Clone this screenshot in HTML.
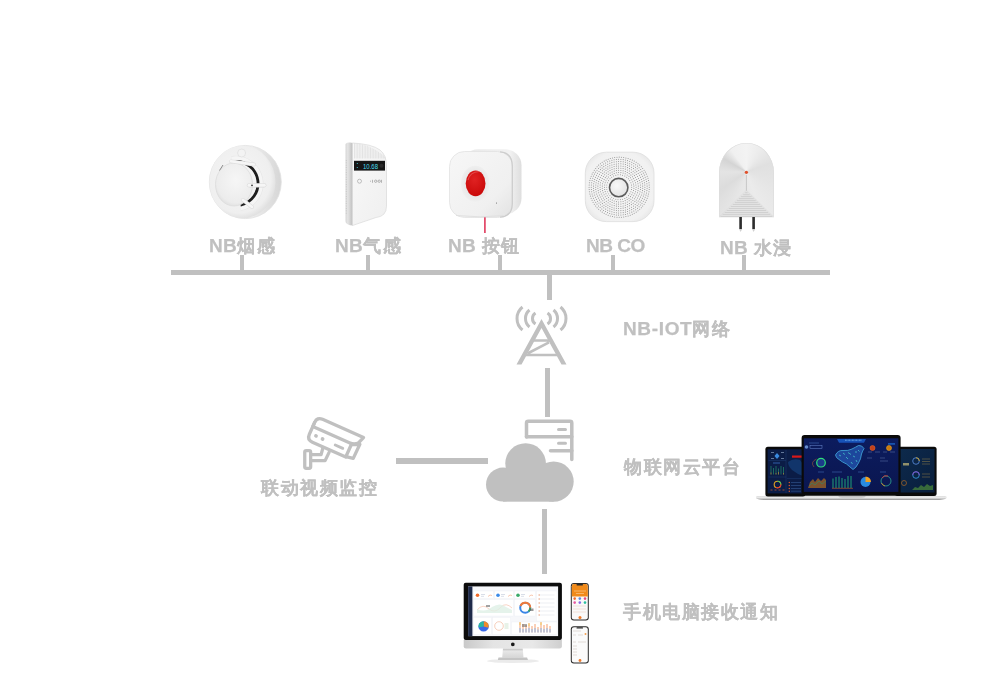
<!DOCTYPE html>
<html><head><meta charset="utf-8">
<style>
html,body{margin:0;padding:0;background:#fff;}
body{width:1000px;height:700px;position:relative;overflow:hidden;font-family:"Liberation Sans",sans-serif;}
.ln{position:absolute;background:#c0c0c0;}
.t{position:absolute;font-size:18px;line-height:18px;font-weight:bold;color:#c0c0c0;white-space:nowrap;letter-spacing:1.5px;will-change:transform;-webkit-text-stroke:0.12px #c0c0c0;}
.t b{font-size:19px;letter-spacing:0.3px;-webkit-text-stroke:0.25px #c0c0c0;}
svg{position:absolute;overflow:visible;}
</style></head><body>

<!-- bus lines -->
<div class="ln" style="left:171px;top:269.5px;width:659px;height:5.5px"></div>
<div class="ln" style="left:240px;top:255px;width:4px;height:15px"></div>
<div class="ln" style="left:366px;top:255px;width:4px;height:15px"></div>
<div class="ln" style="left:498px;top:255px;width:4px;height:15px"></div>
<div class="ln" style="left:611px;top:255px;width:4px;height:15px"></div>
<div class="ln" style="left:742px;top:255px;width:4px;height:15px"></div>
<div class="ln" style="left:546.5px;top:275px;width:5px;height:25px"></div>
<div class="ln" style="left:545px;top:368px;width:5px;height:49px"></div>
<div class="ln" style="left:396px;top:458.3px;width:91.5px;height:5.5px"></div>
<div class="ln" style="left:542px;top:508.8px;width:5px;height:65.2px"></div>

<!-- labels -->
<div class="t" style="left:209px;top:237px"><b>NB</b>烟感</div>
<div class="t" style="left:335px;top:237px"><b>NB</b>气感</div>
<div class="t" style="left:448px;top:237px"><b>NB </b>按钮</div>
<div class="t" style="left:586px;top:237px"><b style="letter-spacing:-0.5px">NB CO</b></div>
<div class="t" style="left:720px;top:239px"><b>NB </b>水浸</div>
<div class="t" style="left:622.5px;top:320px"><b style="letter-spacing:0.65px">NB-IOT</b>网络</div>
<div class="t" style="left:624px;top:458px">物联网云平台</div>
<div class="t" style="left:623px;top:603px">手机电脑接收通知</div>
<div class="t" style="left:261px;top:479px">联动视频监控</div>

<!-- tower -->
<svg style="left:0;top:0" width="1000" height="700" viewBox="0 0 1000 700">
 <g fill="none" stroke="#c0c0c0">
  <path d="M516.5,364.5 L541.5,319 L566.5,364.5 L561.5,364.5 L541.5,328 L521.5,364.5 Z" fill="#c0c0c0" stroke="none"/>
  <path d="M533,340.5 H550 M526,355 H557 M549,342.3 L527.5,353.5" stroke-width="2.6"/>
  <g stroke-width="3" stroke-linecap="butt">
   <path d="M522.5,307 A14.8,14.8 0 0 0 522.5,330"/>
   <path d="M529.5,310 A11,11 0 0 0 529.5,327"/>
   <path d="M535.5,313 A6.5,6.5 0 0 0 535.5,324"/>
   <path d="M560.5,307 A14.8,14.8 0 0 1 560.5,330"/>
   <path d="M553.5,310 A11,11 0 0 1 553.5,327"/>
   <path d="M547.5,313 A6.5,6.5 0 0 1 547.5,324"/>
  </g>
 </g>
 <!-- server -->
 <g fill="none" stroke="#c0c0c0" stroke-width="3.5" stroke-linecap="round" stroke-linejoin="round">
  <path d="M526.5,437 V423 Q526.5,421.3 528.3,421.3 H570 Q571.8,421.3 571.8,423 V459.5"/>
  <path d="M526.5,436.8 H571.8"/>
  <path d="M550.5,450.7 H571.8"/>
  <path d="M558.5,429.5 H565.5 M558.5,443.3 H565.5" stroke-width="3"/>
 </g>
 <!-- cloud -->
 <g fill="#c0c0c0">
  <circle cx="525.6" cy="463.5" r="20.3"/>
  <circle cx="503" cy="484.6" r="17"/>
  <circle cx="553.6" cy="481.6" r="20.1"/>
  <rect x="503" y="470" width="50.6" height="31.7"/>
 </g>
 <!-- camera -->
 <g fill="none" stroke="#c0c0c0" stroke-width="3.3" stroke-linejoin="round" stroke-linecap="round" transform="translate(317.1,416.9) rotate(24)">
  <path d="M0,10.5 L40,10.5 Q48.3,10.5 49.4,4 L50.8,0 L6,0 Q0,0 0,6 Z"/>
  <path d="M0,6 L0,19 Q0,25 6,25 L42.5,25 L42.5,10.5"/>
  <path d="M42.5,11.5 L50.2,7.6 L49.9,23.2 L42.5,24.5"/>
  <path d="M28,18.3 L36.2,18.3" stroke-width="2.9"/>
  <circle cx="6.7" cy="17.8" r="1.9" fill="#c0c0c0" stroke="none"/>
  <circle cx="14" cy="18" r="1.9" fill="#c0c0c0" stroke="none"/>
 </g>
 <g fill="none" stroke="#c0c0c0" stroke-width="3.3" stroke-linejoin="round" stroke-linecap="round">
  <path d="M322.9,447.9 L321.1,454.6 L312.3,454.6 M312.3,460.6 L325.1,460.6 L329.1,452.4"/>
  <rect x="304.75" y="450.65" width="5.9" height="17.7" rx="1.5"/>
 </g>
</svg>


<div style="position:absolute;left:719.3px;top:142.9px;width:54.3px;height:74.2px;border-radius:27.15px 27.15px 1px 1px / 30px 30px 1px 1px;background:conic-gradient(from 0deg at 50% 39%,#f3f3f3 0deg,#ececec 30deg,#e0e0e0 70deg,#e4e4e4 110deg,#ebebeb 160deg,#e6e6e6 200deg,#dcdcdc 235deg,#e4e4e4 270deg,#d4d4d4 300deg,#f0f0f0 325deg,#f3f3f3 360deg);box-shadow:inset 0 0 0 0.6px #dcdcdc"></div>
<!-- products -->
<svg style="left:0;top:0" width="1000" height="700" viewBox="0 0 1000 700">
 <defs>
  <radialGradient id="sdFace" cx="0.45" cy="0.45" r="0.6">
   <stop offset="0" stop-color="#f6f6f6"/><stop offset="0.8" stop-color="#efefef"/><stop offset="1" stop-color="#dadada"/>
  </radialGradient>
  <radialGradient id="sdCap" cx="0.55" cy="0.4" r="0.7">
   <stop offset="0" stop-color="#f6f6f6"/><stop offset="0.75" stop-color="#ececec"/><stop offset="1" stop-color="#d6d6d6"/>
  </radialGradient>
  <linearGradient id="sdRim" x1="0" x2="1" y1="0" y2="0">
   <stop offset="0" stop-color="#e6e6e6"/><stop offset="0.6" stop-color="#ededed"/><stop offset="1" stop-color="#d6d6d6"/>
  </linearGradient>
 </defs>

 <defs>
  <linearGradient id="gdSide" x1="0" x2="1"><stop offset="0" stop-color="#d6d6d6"/><stop offset="0.3" stop-color="#e4e4e4"/><stop offset="0.75" stop-color="#cacaca"/><stop offset="1" stop-color="#bdbdbd"/></linearGradient>
  <linearGradient id="gdFace" x1="0" x2="1" y1="0" y2="1"><stop offset="0" stop-color="#f8f8f8"/><stop offset="1" stop-color="#efefef"/></linearGradient>
  <linearGradient id="btSide" x1="0" x2="1"><stop offset="0" stop-color="#e8e8e8"/><stop offset="0.8" stop-color="#f2f2f2"/><stop offset="1" stop-color="#dedede"/></linearGradient>
  <radialGradient id="btRing" cx="0.5" cy="0.5" r="0.5"><stop offset="0.6" stop-color="#e6e6e6"/><stop offset="1" stop-color="#efefef"/></radialGradient>
  <linearGradient id="btFace" x1="0" x2="1" y1="0" y2="1"><stop offset="0" stop-color="#f7f7f7"/><stop offset="0.7" stop-color="#f0f0f0"/><stop offset="1" stop-color="#e2e2e2"/></linearGradient>
  <radialGradient id="btRed" cx="0.45" cy="0.35" r="0.7"><stop offset="0" stop-color="#e02222"/><stop offset="1" stop-color="#c80808"/></radialGradient>
  <radialGradient id="coFace" cx="0.5" cy="0.5" r="0.6"><stop offset="0" stop-color="#f6f6f6"/><stop offset="0.85" stop-color="#f1f1f1"/><stop offset="1" stop-color="#e6e6e6"/></radialGradient>
  <radialGradient id="wsFace" cx="0.5" cy="0.42" r="0.65"><stop offset="0" stop-color="#f4f4f4"/><stop offset="0.6" stop-color="#e9e9e9"/><stop offset="1" stop-color="#dadada"/></radialGradient>
  <radialGradient id="coHalo" cx="0.5" cy="0.5" r="0.5"><stop offset="0.7" stop-color="#ececec"/><stop offset="1" stop-color="#f2f2f2" stop-opacity="0.3"/></radialGradient>
  <radialGradient id="coBtn" cx="0.4" cy="0.4" r="0.6"><stop offset="0" stop-color="#f8f8f8"/><stop offset="1" stop-color="#e4e4e4"/></radialGradient>
  <pattern id="coDots" width="3" height="3" patternUnits="userSpaceOnUse"><circle cx="1.5" cy="1.5" r="0.55" fill="#9a9a9a"/></pattern>
 </defs>
 <!-- gas detector -->
 <g>
  <path d="M345.5,144 Q347,142.3 350,142.6 L353,143 L353,225.5 L350,225.2 Q345.5,224 345.5,221 Z" fill="url(#gdSide)"/>
  <path d="M352.5,143 Q372,144 380,150 Q386.5,155 386.5,166 L386.5,206 Q386.5,216.5 376,217.5 L352.5,225.5 Z" fill="url(#gdFace)" stroke="#dadada" stroke-width="0.7"/>
  <path d="M354.5,143.2 L354.5,158.5 M356.1,143.3 L356.1,158.5 M357.7,143.5 L357.7,158.5 M359.3,143.7 L359.3,158.5 M360.9,144.0 L360.9,158.5 M362.5,144.4 L362.5,158.5 M364.1,144.8 L364.1,158.5 M365.7,145.4 L365.7,158.5 M367.3,145.9 L367.3,158.5 M368.9,146.6 L368.9,158.5 M370.5,147.3 L370.5,158.5 M372.1,148.1 L372.1,158.5 M373.7,148.9 L373.7,158.5 M375.3,149.8 L375.3,158.5 M376.9,150.8 L376.9,158.5 M378.5,151.9 L378.5,158.5 M380.1,153.0 L380.1,158.5 M381.7,154.2 L381.7,158.5 M383.3,155.4 L383.3,158.5 M384.9,156.8 L384.9,158.5" stroke="#d6d6d6" stroke-width="0.6"/>
  <rect x="354" y="160.8" width="31" height="9.8" fill="#161616"/>
  <text x="363" y="168.6" font-family="Liberation Sans" font-size="7" fill="#48dcec" textLength="15" lengthAdjust="spacingAndGlyphs">10.68</text>
  <circle cx="381.5" cy="165.7" r="2" fill="#2a2a2a"/>
  <path d="M357.3,163 v1 M357.3,167 v1" stroke="#48dcec" stroke-width="0.8"/>
  <circle cx="359.5" cy="181.2" r="2" fill="none" stroke="#9a9a9a" stroke-width="0.6"/>
  <path d="M370,181.2 h1 M372.5,179.8 v3 M374.5,181.2 a1.2,1.2 0 1 0 2.4,0 a1.2,1.2 0 1 0 -2.4,0 M378,181.2 a1.2,1.2 0 1 0 2.4,0 a1.2,1.2 0 1 0 -2.4,0 M381.5,179.8 v3" stroke="#8a8a8a" stroke-width="0.6" fill="none"/>
  <path d="M346.3,160 V215" stroke="#b8b8b8" stroke-width="0.7" stroke-dasharray="0.8 1.6"/>
 </g>
 <!-- button -->
 <g>
  <rect x="462" y="149.3" width="59.5" height="65" rx="16" ry="16" fill="url(#btSide)"/>
  <rect x="449.5" y="151.5" width="63" height="66" rx="15" ry="15" fill="url(#btFace)" stroke="#e2e2e2" stroke-width="0.8"/>
  <path d="M500,151.8 Q512,152.5 512.3,166 L512.3,204 Q512,216.5 500,217.2" stroke="#cdcdcd" stroke-width="1.3" fill="none"/>
  <path d="M456,215.5 Q480,218.2 505,215.5" stroke="#e0e0e0" stroke-width="1" fill="none"/>
  <ellipse cx="475.3" cy="183.7" rx="14.3" ry="18" fill="url(#btRing)"/>
  <ellipse cx="475.6" cy="183.4" rx="9.9" ry="12.9" fill="url(#btRed)"/>
  <path d="M468,180 Q470,172 479,171.5" stroke="#f07070" stroke-width="1.2" fill="none" opacity="0.55"/>
  <circle cx="496.5" cy="203" r="0.5" fill="#555"/>
  <rect x="484.1" y="217.3" width="1.6" height="15.7" fill="#e03a5c"/>
 </g>
 <!-- CO detector -->
 <g>
  <rect x="585.3" y="152.2" width="68.7" height="69.4" rx="21" ry="21" fill="url(#coFace)" stroke="#e0e0e0" stroke-width="0.9"/>
  <path d="M631.7,187.2h0 M631.5,189.5h0 M630.9,191.7h0 M629.8,193.8h0 M628.4,195.6h0 M626.7,197.2h0 M624.8,198.4h0 M622.6,199.2h0 M620.4,199.6h0 M618.0,199.6h0 M615.8,199.2h0 M613.6,198.4h0 M611.7,197.2h0 M610.0,195.6h0 M608.6,193.8h0 M607.5,191.7h0 M606.9,189.5h0 M606.7,187.2h0 M606.9,184.9h0 M607.5,182.7h0 M608.6,180.6h0 M610.0,178.8h0 M611.7,177.2h0 M613.6,176.0h0 M615.8,175.2h0 M618.0,174.8h0 M620.4,174.8h0 M622.6,175.2h0 M624.8,176.0h0 M626.7,177.2h0 M628.4,178.8h0 M629.8,180.6h0 M630.9,182.7h0 M631.5,184.9h0 M633.9,188.3h0 M633.5,190.5h0 M632.8,192.7h0 M631.8,194.7h0 M630.5,196.6h0 M629.0,198.2h0 M627.2,199.5h0 M625.2,200.6h0 M623.1,201.4h0 M620.9,201.8h0 M618.6,201.9h0 M616.4,201.6h0 M614.2,201.0h0 M612.2,200.1h0 M610.3,198.9h0 M608.6,197.4h0 M607.2,195.7h0 M606.0,193.7h0 M605.2,191.6h0 M604.7,189.4h0 M604.5,187.2h0 M604.7,185.0h0 M605.2,182.8h0 M606.0,180.7h0 M607.2,178.7h0 M608.6,177.0h0 M610.3,175.5h0 M612.2,174.3h0 M614.2,173.4h0 M616.4,172.8h0 M618.6,172.5h0 M620.9,172.6h0 M623.1,173.0h0 M625.2,173.8h0 M627.2,174.9h0 M629.0,176.2h0 M630.5,177.8h0 M631.8,179.7h0 M632.8,181.7h0 M633.5,183.9h0 M633.9,186.1h0 M636.1,187.2h0 M635.9,189.5h0 M635.5,191.7h0 M634.8,193.8h0 M633.7,195.8h0 M632.5,197.7h0 M630.9,199.3h0 M629.2,200.8h0 M627.3,202.0h0 M625.3,203.0h0 M623.1,203.6h0 M620.9,204.0h0 M618.6,204.1h0 M616.4,203.9h0 M614.2,203.3h0 M612.1,202.5h0 M610.1,201.4h0 M608.3,200.1h0 M606.7,198.5h0 M605.3,196.8h0 M604.1,194.8h0 M603.2,192.7h0 M602.6,190.6h0 M602.3,188.3h0 M602.3,186.1h0 M602.6,183.8h0 M603.2,181.7h0 M604.1,179.6h0 M605.3,177.6h0 M606.7,175.9h0 M608.3,174.3h0 M610.1,173.0h0 M612.1,171.9h0 M614.2,171.1h0 M616.4,170.5h0 M618.6,170.3h0 M620.9,170.4h0 M623.1,170.8h0 M625.3,171.4h0 M627.3,172.4h0 M629.2,173.6h0 M630.9,175.1h0 M632.5,176.7h0 M633.7,178.6h0 M634.8,180.6h0 M635.5,182.7h0 M635.9,184.9h0 M638.3,188.3h0 M638.0,190.6h0 M637.5,192.8h0 M636.7,194.9h0 M635.6,196.9h0 M634.4,198.8h0 M632.9,200.5h0 M631.2,202.0h0 M629.4,203.4h0 M627.4,204.4h0 M625.3,205.3h0 M623.1,205.9h0 M620.9,206.2h0 M618.6,206.3h0 M616.4,206.1h0 M614.2,205.6h0 M612.0,204.9h0 M610.0,203.9h0 M608.1,202.7h0 M606.3,201.3h0 M604.7,199.7h0 M603.4,197.9h0 M602.2,195.9h0 M601.3,193.9h0 M600.6,191.7h0 M600.2,189.5h0 M600.1,187.2h0 M600.2,184.9h0 M600.6,182.7h0 M601.3,180.5h0 M602.2,178.5h0 M603.4,176.5h0 M604.7,174.7h0 M606.3,173.1h0 M608.1,171.7h0 M610.0,170.5h0 M612.0,169.5h0 M614.2,168.8h0 M616.4,168.3h0 M618.6,168.1h0 M620.9,168.2h0 M623.1,168.5h0 M625.3,169.1h0 M627.4,170.0h0 M629.4,171.0h0 M631.2,172.4h0 M632.9,173.9h0 M634.4,175.6h0 M635.6,177.5h0 M636.7,179.5h0 M637.5,181.6h0 M638.0,183.8h0 M638.3,186.1h0 M640.5,187.2h0 M640.4,189.5h0 M640.0,191.7h0 M639.4,193.9h0 M638.6,196.0h0 M637.6,198.0h0 M636.3,199.9h0 M634.9,201.6h0 M633.2,203.2h0 M631.4,204.6h0 M629.5,205.8h0 M627.5,206.8h0 M625.3,207.6h0 M623.1,208.1h0 M620.9,208.4h0 M618.6,208.5h0 M616.4,208.3h0 M614.1,207.9h0 M612.0,207.2h0 M609.9,206.4h0 M607.9,205.3h0 M606.0,204.0h0 M604.3,202.5h0 M602.8,200.8h0 M601.5,199.0h0 M600.3,197.0h0 M599.4,195.0h0 M598.7,192.8h0 M598.2,190.6h0 M597.9,188.3h0 M597.9,186.1h0 M598.2,183.8h0 M598.7,181.6h0 M599.4,179.4h0 M600.3,177.4h0 M601.5,175.4h0 M602.8,173.6h0 M604.3,171.9h0 M606.0,170.4h0 M607.9,169.1h0 M609.9,168.0h0 M612.0,167.2h0 M614.1,166.5h0 M616.4,166.1h0 M618.6,165.9h0 M620.9,166.0h0 M623.1,166.3h0 M625.3,166.8h0 M627.5,167.6h0 M629.5,168.6h0 M631.4,169.8h0 M633.2,171.2h0 M634.9,172.8h0 M636.3,174.5h0 M637.6,176.4h0 M638.6,178.4h0 M639.4,180.5h0 M640.0,182.7h0 M640.4,184.9h0 M642.7,188.3h0 M642.5,190.6h0 M642.0,192.8h0 M641.4,195.0h0 M640.5,197.1h0 M639.5,199.1h0 M638.2,201.0h0 M636.8,202.8h0 M635.2,204.4h0 M633.5,205.9h0 M631.6,207.2h0 M629.6,208.3h0 M627.5,209.2h0 M625.4,209.9h0 M623.2,210.4h0 M620.9,210.6h0 M618.6,210.7h0 M616.4,210.5h0 M614.1,210.1h0 M611.9,209.5h0 M609.8,208.7h0 M607.8,207.7h0 M605.9,206.5h0 M604.0,205.2h0 M602.4,203.6h0 M600.9,201.9h0 M599.5,200.1h0 M598.4,198.1h0 M597.4,196.1h0 M596.7,193.9h0 M596.1,191.7h0 M595.8,189.5h0 M595.7,187.2h0 M595.8,184.9h0 M596.1,182.7h0 M596.7,180.5h0 M597.4,178.3h0 M598.4,176.3h0 M599.5,174.3h0 M600.9,172.5h0 M602.4,170.8h0 M604.0,169.2h0 M605.9,167.9h0 M607.8,166.7h0 M609.8,165.7h0 M611.9,164.9h0 M614.1,164.3h0 M616.4,163.9h0 M618.6,163.7h0 M620.9,163.8h0 M623.2,164.0h0 M625.4,164.5h0 M627.5,165.2h0 M629.6,166.1h0 M631.6,167.2h0 M633.5,168.5h0 M635.2,170.0h0 M636.8,171.6h0 M638.2,173.4h0 M639.5,175.3h0 M640.5,177.3h0 M641.4,179.4h0 M642.0,181.6h0 M642.5,183.8h0 M642.7,186.1h0 M644.9,187.2h0 M644.8,189.5h0 M644.5,191.7h0 M644.0,193.9h0 M643.3,196.1h0 M642.4,198.2h0 M641.4,200.2h0 M640.1,202.1h0 M638.7,203.9h0 M637.2,205.6h0 M635.5,207.1h0 M633.7,208.4h0 M631.7,209.6h0 M629.7,210.7h0 M627.6,211.5h0 M625.4,212.1h0 M623.2,212.6h0 M620.9,212.8h0 M618.6,212.9h0 M616.4,212.7h0 M614.1,212.4h0 M611.9,211.8h0 M609.8,211.1h0 M607.7,210.2h0 M605.7,209.1h0 M603.8,207.8h0 M602.1,206.3h0 M600.4,204.8h0 M599.0,203.0h0 M597.6,201.2h0 M596.5,199.2h0 M595.5,197.2h0 M594.7,195.0h0 M594.1,192.8h0 M593.7,190.6h0 M593.5,188.3h0 M593.5,186.1h0 M593.7,183.8h0 M594.1,181.6h0 M594.7,179.4h0 M595.5,177.2h0 M596.5,175.2h0 M597.6,173.2h0 M599.0,171.4h0 M600.4,169.6h0 M602.1,168.1h0 M603.8,166.6h0 M605.7,165.3h0 M607.7,164.2h0 M609.8,163.3h0 M611.9,162.6h0 M614.1,162.0h0 M616.4,161.7h0 M618.6,161.5h0 M620.9,161.6h0 M623.2,161.8h0 M625.4,162.3h0 M627.6,162.9h0 M629.7,163.7h0 M631.7,164.8h0 M633.7,166.0h0 M635.5,167.3h0 M637.2,168.8h0 M638.7,170.5h0 M640.1,172.3h0 M641.4,174.2h0 M642.4,176.2h0 M643.3,178.3h0 M644.0,180.5h0 M644.5,182.7h0 M644.8,184.9h0 M647.1,188.3h0 M646.9,190.6h0 M646.5,192.9h0 M646.0,195.1h0 M645.2,197.2h0 M644.3,199.3h0 M643.3,201.3h0 M642.0,203.2h0 M640.7,205.0h0 M639.1,206.7h0 M637.5,208.3h0 M635.7,209.7h0 M633.8,211.0h0 M631.8,212.1h0 M629.7,213.0h0 M627.6,213.8h0 M625.4,214.4h0 M623.2,214.8h0 M620.9,215.0h0 M618.6,215.1h0 M616.4,215.0h0 M614.1,214.6h0 M611.9,214.1h0 M609.7,213.4h0 M607.6,212.6h0 M605.6,211.5h0 M603.6,210.4h0 M601.8,209.0h0 M600.1,207.5h0 M598.5,205.9h0 M597.0,204.1h0 M595.7,202.3h0 M594.6,200.3h0 M593.6,198.3h0 M592.8,196.1h0 M592.1,194.0h0 M591.7,191.7h0 M591.4,189.5h0 M591.3,187.2h0 M591.4,184.9h0 M591.7,182.7h0 M592.1,180.4h0 M592.8,178.3h0 M593.6,176.1h0 M594.6,174.1h0 M595.7,172.1h0 M597.0,170.3h0 M598.5,168.5h0 M600.1,166.9h0 M601.8,165.4h0 M603.6,164.0h0 M605.6,162.9h0 M607.6,161.8h0 M609.7,161.0h0 M611.9,160.3h0 M614.1,159.8h0 M616.4,159.4h0 M618.6,159.3h0 M620.9,159.4h0 M623.2,159.6h0 M625.4,160.0h0 M627.6,160.6h0 M629.7,161.4h0 M631.8,162.3h0 M633.8,163.4h0 M635.7,164.7h0 M637.5,166.1h0 M639.1,167.7h0 M640.7,169.4h0 M642.0,171.2h0 M643.3,173.1h0 M644.3,175.1h0 M645.2,177.2h0 M646.0,179.3h0 M646.5,181.5h0 M646.9,183.8h0 M647.1,186.1h0 M649.3,187.2h0 M649.2,189.4h0 M649.0,191.7h0 M648.5,193.9h0 M648.0,196.1h0 M647.2,198.2h0 M646.3,200.3h0 M645.3,202.2h0 M644.1,204.2h0 M642.7,206.0h0 M641.3,207.7h0 M639.7,209.3h0 M638.0,210.7h0 M636.2,212.1h0 M634.2,213.3h0 M632.3,214.3h0 M630.2,215.2h0 M628.1,216.0h0 M625.9,216.5h0 M623.7,217.0h0 M621.4,217.2h0 M619.2,217.3h0 M617.0,217.2h0 M614.7,217.0h0 M612.5,216.5h0 M610.3,216.0h0 M608.2,215.2h0 M606.1,214.3h0 M604.2,213.3h0 M602.2,212.1h0 M600.4,210.7h0 M598.7,209.3h0 M597.1,207.7h0 M595.7,206.0h0 M594.3,204.2h0 M593.1,202.2h0 M592.1,200.3h0 M591.2,198.2h0 M590.4,196.1h0 M589.9,193.9h0 M589.4,191.7h0 M589.2,189.4h0 M589.1,187.2h0 M589.2,185.0h0 M589.4,182.7h0 M589.9,180.5h0 M590.4,178.3h0 M591.2,176.2h0 M592.1,174.1h0 M593.1,172.2h0 M594.3,170.2h0 M595.7,168.4h0 M597.1,166.7h0 M598.7,165.1h0 M600.4,163.7h0 M602.2,162.3h0 M604.2,161.1h0 M606.1,160.1h0 M608.2,159.2h0 M610.3,158.4h0 M612.5,157.9h0 M614.7,157.4h0 M617.0,157.2h0 M619.2,157.1h0 M621.4,157.2h0 M623.7,157.4h0 M625.9,157.9h0 M628.1,158.4h0 M630.2,159.2h0 M632.3,160.1h0 M634.2,161.1h0 M636.2,162.3h0 M638.0,163.7h0 M639.7,165.1h0 M641.3,166.7h0 M642.7,168.4h0 M644.1,170.2h0 M645.3,172.1h0 M646.3,174.1h0 M647.2,176.2h0 M648.0,178.3h0 M648.5,180.5h0 M649.0,182.7h0 M649.2,185.0h0" stroke="#8e8e8e" stroke-width="1.05" stroke-linecap="round"/>
  <circle cx="618.7" cy="187.6" r="12.2" fill="url(#coHalo)"/>
  <circle cx="618.7" cy="187.6" r="9.2" fill="url(#coBtn)" stroke="#5c5c5c" stroke-width="1.6"/>
 </g>
 <!-- water sensor -->
 <g>
    <path d="M746.4,190.2 L719.4,217 L773.5,217 Z" fill="#e4e4e4" stroke="#d6d6d6" stroke-width="0.5"/>
  <path d="M745.2,192.7 H747.6 M743.1,194.7 H749.7 M741.1,196.6 H751.7 M739.0,198.6 H753.8 M737.0,200.6 H755.8 M735.0,202.6 H757.8 M732.9,204.5 H759.9 M730.9,206.5 H761.9 M728.9,208.5 H763.9 M726.8,210.5 H766.0 M724.8,212.5 H768.0 M722.7,214.4 H770.1 M720.7,216.4 H772.1" stroke="#c8c8c8" stroke-width="0.7"/>
  <path d="M746.4,175 V190.7" stroke="#b0b0b0" stroke-width="0.6"/>
  <circle cx="746.4" cy="172.3" r="1.6" fill="#e0502a"/>
  <rect x="739.3" y="217" width="2.6" height="12" fill="#2c2c2c"/>
  <rect x="752.3" y="217" width="2.6" height="12" fill="#2c2c2c"/>
  <path d="M739,229 L740.6,232 L742.2,229 Z M752,229 L753.6,232 L755.2,229 Z" fill="#d0d0d0"/>
 </g>

 <defs>
  <linearGradient id="lpBase" x1="0" x2="0" y1="0" y2="1"><stop offset="0" stop-color="#dcdcdc"/><stop offset="0.35" stop-color="#ececec"/><stop offset="0.7" stop-color="#c4c4c4"/><stop offset="1" stop-color="#8c8c8c"/></linearGradient>
  <linearGradient id="scrL" x1="0" x2="1" y1="0" y2="1"><stop offset="0" stop-color="#0d2a4c"/><stop offset="1" stop-color="#091e3c"/></linearGradient>
  <linearGradient id="scrC" x1="0" x2="0" y1="0" y2="1"><stop offset="0" stop-color="#0c1c5e"/><stop offset="1" stop-color="#0a1650"/></linearGradient>
  <linearGradient id="chin" x1="0" x2="1"><stop offset="0" stop-color="#c9c9c9"/><stop offset="0.3" stop-color="#e4e4e4"/><stop offset="0.7" stop-color="#e8e8e8"/><stop offset="1" stop-color="#cfcfcf"/></linearGradient>
  <linearGradient id="neck" x1="0" x2="0" y1="0" y2="1"><stop offset="0" stop-color="#bdbdbd"/><stop offset="0.3" stop-color="#e6e6e6"/><stop offset="1" stop-color="#d6d6d6"/></linearGradient>
 </defs>
 <!-- laptops -->
 <g>
  <!-- base -->
  <path d="M757,496 H945 Q947.5,496.3 946.5,498 Q944.5,500 935,500 H766 Q757,500 756,498 Q755.8,496.3 757,496 Z" fill="url(#lpBase)"/>
  <path d="M838,496.2 H866 Q865,497.6 862,497.6 H842 Q839,497.6 838,496.2 Z" fill="#b8b8b8"/>
  <!-- left laptop -->
  <rect x="765.4" y="446.7" width="40" height="49.8" rx="2.5" fill="#0a0a0a"/>
  <rect x="767.6" y="449.3" width="36" height="44.1" fill="#0b1c46"/>
  <g>
   <path d="M768.5,460.5 H786 M786,450 V493 M768.5,477 H786 M787,478.5 H803" stroke="#1d3a70" stroke-width="0.5"/>
   <path d="M777,453 L779.5,456 L777,459 L774.5,456 Z" fill="#3a8ae0"/>
   <path d="M771,452.5 h3 M781,452.5 h3 M771,458.5 h3 M781,458.5 h3" stroke="#8aa0c0" stroke-width="0.7"/>
   <path d="M773,463 h7" stroke="#3a70c0" stroke-width="0.8"/>
   <path d="M771,474.5 V466 M773.5,474.5 V468 M776,474.5 V466 M778.5,474.5 V468.5 M781,474.5 V466 M783.5,474.5 V467" stroke="#28a070" stroke-width="0.6"/>
   <path d="M771,474.5 V472.5 M776,474.5 V473 M778.5,474.5 V472 M783.5,474.5 V473" stroke="#d08030" stroke-width="0.6"/>
   <circle cx="777.5" cy="484.5" r="3.3" fill="none" stroke="#e0a020" stroke-width="1.1"/>
   <path d="M777.5,481.2 A3.3,3.3 0 0 1 780.8,484.5" fill="none" stroke="#40c060" stroke-width="1.1"/>
   <path d="M780.8,484.5 A3.3,3.3 0 0 1 776,487.5" fill="none" stroke="#e03030" stroke-width="1.1"/>
   <path d="M770.5,490 h2 M774.5,490 h2 M778.5,490 h2 M782.5,490 h2" stroke="#d06030" stroke-width="0.7"/>
   <rect x="792" y="455.5" width="11" height="2.2" fill="#d81818"/>
   <path d="M788,462 Q793,458 800,460 L803,464 L803,476 Q797,474 792,470 Q788,466 788,462 Z" fill="#14407a" opacity="0.7"/>
   <circle cx="789.3" cy="482.5" r="0.7" fill="#e05a2a"/><circle cx="789.3" cy="485.5" r="0.7" fill="#e05a2a"/><circle cx="789.3" cy="488.5" r="0.7" fill="#e05a2a"/><circle cx="789.3" cy="491.2" r="0.7" fill="#e05a2a"/>
   <path d="M791,482.5 h10 M791,485.5 h10 M791,488.5 h10 M791,491.2 h10" stroke="#2a4a80" stroke-width="0.8"/>
  </g>
  <!-- right laptop -->
  <rect x="895" y="446.7" width="41.6" height="49.3" rx="2.5" fill="#0a0a0a"/>
  <rect x="899" y="449" width="35.5" height="43.5" fill="url(#scrL)"/>
  <g opacity="0.9">
   <circle cx="916" cy="461" r="3.3" fill="none" stroke="#5a8ee0" stroke-width="0.9"/>
   <path d="M916,457.7 A3.3,3.3 0 0 1 919.3,461" fill="none" stroke="#e6b020" stroke-width="0.9"/>
   <circle cx="916" cy="475" r="3.3" fill="none" stroke="#3aa0e6" stroke-width="0.9"/>
   <path d="M912.7,475 A3.3,3.3 0 0 1 919.3,475" fill="none" stroke="#9b4fd8" stroke-width="0.9"/>
   <path d="M912,490 L915,487 L918,488 L921,485 L924,487 L927,484 L930,486 L933,485 V490 Z" fill="#4a8a3a" opacity="0.8"/>
   <path d="M922,459 h8 M922,461.5 h8 M922,464 h8 M922,474 h8 M922,477 h8" stroke="#8a7a4a" stroke-width="0.6"/>
   <circle cx="904" cy="483" r="2.5" fill="none" stroke="#c07020" stroke-width="0.7"/>
   <rect x="903" y="463" width="6" height="2.5" fill="#e0d080" opacity="0.7"/>
  </g>
  <!-- center laptop -->
  <rect x="801.6" y="435" width="99" height="60.8" rx="3" fill="#0a0a0a"/>
  <rect x="803.8" y="438.3" width="94.6" height="53.6" fill="url(#scrC)"/>
  <path d="M837,439 H866 L864,442.8 H839 Z" fill="#1a5cc8" opacity="0.85"/>
  <path d="M845,440.2 H862" stroke="#8fd0ff" stroke-width="0.8" stroke-dasharray="0.8 0.6"/>
  <rect x="888" y="443" width="7" height="1.8" fill="#1e6ad0" opacity="0.7"/>
  <circle cx="806.5" cy="447" r="1.8" fill="#7aa8e8" opacity="0.8"/>
  <rect x="810" y="445.5" width="12" height="2.8" fill="none" stroke="#6a8ad0" stroke-width="0.5"/>
  <circle cx="821" cy="462.7" r="4.3" fill="#1c3c8a" stroke="#2ee07a" stroke-width="1.2"/>
  <path d="M816.5,459 Q810,462 814,467" fill="none" stroke="#c06a30" stroke-width="0.5"/>
  <path d="M835.5,455 Q838,450 843,450.5 Q848,451 852,449 Q856,447 858.5,445.5 Q862,445 864,448.5 Q862.5,451 861.5,454 Q861,459 858.5,463 Q856,468 853,469.5 Q850,467 846.5,464 Q842,462 839,459.5 Q836,458 835.5,455 Z" fill="#1e4aa0" stroke="#48b4e6" stroke-width="0.8" opacity="0.95"/>
  <path d="M839,455 l2,1 M843,453 l2,1.5 M848,452.5 l3,2 M853,456 l2,1 M846,457 l2,2 M856,460 l1,2 M858,450 l1.5,1.5 M851,462 l1.5,2 M855,452 l2,0" stroke="#43c0c8" stroke-width="0.8"/>
  <circle cx="872.5" cy="448" r="2.5" fill="#c4401a" stroke="#e0602a" stroke-width="0.6"/>
  <circle cx="889" cy="448" r="2.5" fill="#c87a10" stroke="#e8a020" stroke-width="0.6"/>
  <path d="M868,452 h4 M875,452 h5 M883,452 h4 M890,452 h5 M867,458 h5 M880,458 h5 M880,461 h8" stroke="#8aa0d0" stroke-width="0.5" opacity="0.7"/>
  <path d="M808,488 L810,482 L813,479 L815,482 L818,478 L821,481 L824,478 L826,480 V488 Z" fill="#8a5a2a" opacity="0.9"/>
  <path d="M809,486 L812,483 L815,485 L819,481 L822,484 L826,481" fill="none" stroke="#2e8a6a" stroke-width="0.6"/>
  <path d="M833,488 V478.5 M836,488 V477 M839,488 V476.5 M842,488 V478 M845,488 V479 M848,488 V476 M851,488 V476" stroke="#23b07a" stroke-width="0.9"/>
  <path d="M832,488.3 H853" stroke="#d06a20" stroke-width="0.6"/>
  <circle cx="865.5" cy="482" r="5" fill="#2a8ae0"/>
  <path d="M865.5,482 V476.5 A5.5,5.5 0 0 1 871,482 Z" fill="#f0a020"/>
  <circle cx="886" cy="481" r="5" fill="none" stroke="#2a9a8a" stroke-width="0.9"/>
  <path d="M882,478 A5,5 0 0 1 888,476" fill="none" stroke="#d03a3a" stroke-width="0.9"/>
  <path d="M881.5,483 A5,5 0 0 0 885,486" fill="none" stroke="#c88a2a" stroke-width="0.9"/>
  <path d="M809,443 h10 M818,472 h6 M832,472 h10 M858,472 h6 M880,472 h6" stroke="#4a78c0" stroke-width="0.5"/>
 </g>
 <!-- iMac -->
 <g>
  <ellipse cx="513" cy="661" rx="26" ry="2" fill="#dedede" opacity="0.6"/>
  <path d="M503,648.6 H522.7 L523.5,657.5 H502.2 Z" fill="url(#neck)"/>
  <path d="M498.5,657.5 H527.1 L528,660 H497.8 Z" fill="#c4c4c4"/>
  <path d="M463.7,640 H561.9 V646.3 Q561.9,648.6 559.5,648.6 H466 Q463.7,648.6 463.7,646.3 Z" fill="url(#chin)"/>
  <path d="M511.3,643 Q512.8,642 514.3,643 Q514.9,644 514.3,645.8 Q512.8,646.6 511.3,645.8 Q510.7,644 511.3,643 Z" fill="#1a1a1a"/>
  <rect x="463.7" y="582.7" width="98.2" height="57.4" rx="2" fill="#0c0c0c"/>
  <rect x="468.1" y="586.4" width="90" height="49.7" fill="#f6f7fa"/>
  <rect x="468.1" y="586.4" width="4.3" height="49.7" fill="#1e2a4a"/>
  <rect x="473.5" y="591" width="20" height="7.5" fill="#fff" stroke="#eceef3" stroke-width="0.4"/>
  <rect x="494.5" y="591" width="19" height="7.5" fill="#fff" stroke="#eceef3" stroke-width="0.4"/>
  <rect x="514.5" y="591" width="21" height="7.5" fill="#fff" stroke="#eceef3" stroke-width="0.4"/>
  <rect x="536.5" y="591" width="20.5" height="30" fill="#fff" stroke="#eceef3" stroke-width="0.4"/>
  <circle cx="477.5" cy="595.3" r="1.8" fill="#f06a2a"/>
  <circle cx="498" cy="595.3" r="1.8" fill="#3a8ae8"/>
  <circle cx="518" cy="595.3" r="1.8" fill="#3aaa6a"/>
  <path d="M481,594.5 h4 M501,594.5 h4 M521,594.5 h4 M481,596.3 h3 M501,596.3 h3 M521,596.3 h3" stroke="#c0c8d8" stroke-width="0.6"/>
  <path d="M488,596.5 l2,-1.5 l2,0.5 M508,596.5 l2,-1.5 l2,0.5 M529,596.5 l2,-1.5 l2,0.5" stroke="#f09060" stroke-width="0.5" fill="none"/>
  <rect x="473.5" y="599.5" width="40" height="16.5" fill="#fff" stroke="#eceef3" stroke-width="0.4"/>
  <path d="M477,610 Q483,603 489,609 Q495,614 501,607 Q506,602 512,608" fill="none" stroke="#f5b8a0" stroke-width="0.6"/>
  <path d="M477,609 Q485,613 492,607 Q500,602 506,607 L512,610 V613 H477 Z" fill="#dff0e6" opacity="0.8"/>
  <rect x="486" y="605" width="4" height="2" fill="#666" opacity="0.6"/>
  <rect x="514.5" y="599.5" width="21" height="16.5" fill="#fff" stroke="#eceef3" stroke-width="0.4"/>
  <circle cx="525.2" cy="607.8" r="5" fill="none" stroke="#3a86e6" stroke-width="2"/>
  <path d="M520.5,606 A5,5 0 0 1 530.2,607.8" fill="none" stroke="#f07a3a" stroke-width="2"/>
  <path d="M530.2,607.8 A5,5 0 0 1 528.5,611.5" fill="none" stroke="#3aaa6a" stroke-width="2"/>
  <rect x="529.5" y="608.5" width="4" height="2.5" fill="#555" opacity="0.6"/>
  <rect x="473.5" y="617.5" width="18" height="17" fill="#fff" stroke="#eceef3" stroke-width="0.4"/>
  <circle cx="483.6" cy="626.4" r="5.2" fill="#3a6ae8"/>
  <path d="M483.6,626.4 L483.6,621.2 A5.2,5.2 0 0 1 488.6,627.8 Z" fill="#f08a2a"/>
  <path d="M483.6,626.4 L478.5,627.5 A5.2,5.2 0 0 1 483.6,621.2 Z" fill="#2ab8a0"/>
  <rect x="492.5" y="617.5" width="18" height="17" fill="#fff" stroke="#eceef3" stroke-width="0.4"/>
  <circle cx="499" cy="626" r="4.3" fill="none" stroke="#f0b090" stroke-width="0.6"/>
  <path d="M504.5,624 h4 M504.5,626 h4 M504.5,628 h4" stroke="#a0c8a0" stroke-width="0.5"/>
  <rect x="511.5" y="622" width="45.5" height="12.5" fill="#fff" stroke="#eceef3" stroke-width="0.4"/>
  <path d="M520,632.5 V622 M523,632.5 V624 M526,632.5 V625 M529,632.5 V623 M532,632.5 V626 M535,632.5 V624 M538,632.5 V627 M541,632.5 V622 M544,632.5 V625 M547,632.5 V624 M550,632.5 V626" stroke="#f5a070" stroke-width="1"/>
  <path d="M520,632.5 V628 M523,632.5 V629 M526,632.5 V628.5 M529,632.5 V628 M532,632.5 V629 M535,632.5 V628 M538,632.5 V629.5 M541,632.5 V628 M544,632.5 V629 M547,632.5 V628 M550,632.5 V629" stroke="#8ab8f0" stroke-width="1"/>
  <path d="M520,625 V622.5 M529,626 V623.5 M541,625 V622.5" stroke="#f0d060" stroke-width="1"/>
  <rect x="522" y="624" width="5" height="3" fill="#666" opacity="0.55"/>
  <path d="M538.5,595 h16 M538.5,599 h16 M538.5,603 h16 M538.5,607 h16 M538.5,611 h16 M538.5,615 h16" stroke="#d8dce6" stroke-width="0.5"/>
  <path d="M538.5,595 h1.5 M538.5,599 h1.5 M538.5,603 h1.5 M538.5,607 h1.5 M538.5,611 h1.5 M538.5,615 h1.5" stroke="#f09060" stroke-width="0.8"/>
 </g>
 <!-- phones -->
 <g>
  <rect x="570.8" y="583.1" width="18" height="37.3" rx="3" fill="#2a2a2a"/>
  <rect x="571.8" y="584.1" width="16" height="35.3" rx="2.2" fill="#f9f9f9"/>
  <path d="M571.8,586.3 Q571.8,584.1 574,584.1 H585.6 Q587.8,584.1 587.8,586.3 V596.6 H571.8 Z" fill="#f08a1a"/>
  <rect x="576.5" y="584.1" width="6.5" height="1.3" rx="0.6" fill="#2a2a2a"/>
  <path d="M574,591 h12 M576,593.5 h8" stroke="#fbd0a0" stroke-width="0.6"/>
  <circle cx="574.7" cy="598.6" r="1.3" fill="#f06a2a"/><circle cx="579.8" cy="598.6" r="1.3" fill="#5a8ae8"/><circle cx="585" cy="598.6" r="1.3" fill="#e84a7a"/>
  <circle cx="574.7" cy="602.6" r="1.3" fill="#e85aa0"/><circle cx="579.8" cy="602.6" r="1.3" fill="#8a6ae8"/><circle cx="585" cy="602.6" r="1.3" fill="#2ac0a0"/>
  <path d="M573,606 h13 M573,609 h13 M573,612 h13" stroke="#e8c8b8" stroke-width="0.5"/>
  <circle cx="580" cy="617.5" r="1.5" fill="#f07a2a"/>
  <rect x="570.8" y="626.2" width="18" height="37.3" rx="3" fill="#2a2a2a"/>
  <rect x="571.8" y="627.2" width="16" height="35.3" rx="2.2" fill="#fbfbfb"/>
  <rect x="576.5" y="627.2" width="6.5" height="1.3" rx="0.6" fill="#2a2a2a"/>
  <path d="M573,631 h8 M573,635 h3 M578,635 h5 M573,642 h3 M578,642 h8 M573,646 h4 M573,649 h4 M573,652 h4 M573,655 h4" stroke="#d0c8c0" stroke-width="0.6"/>
  <circle cx="585.5" cy="634" r="1" fill="#f5a050"/>
  <circle cx="580" cy="660.5" r="1.4" fill="#f07a2a"/>
 </g>
 <!-- smoke detector -->
 <g>
  <ellipse cx="245.3" cy="182" rx="36" ry="36.6" fill="url(#sdRim)" stroke="#e2e2e2" stroke-width="0.8"/>
  <ellipse cx="242.5" cy="182" rx="33" ry="36.2" fill="url(#sdFace)"/>
  <path d="M231.57,158.39 A25.5,25.5 0 0 1 240.43,208.61" fill="none" stroke="#e6e6e6" stroke-width="4.6"/>
  <path d="M231.57,158.39 A25.5,25.5 0 0 1 240.43,208.61" fill="none" stroke="#f5f5f5" stroke-width="3.4"/>
  <path d="M234.08,161.58 A22,22 0 0 1 240.57,205.02" fill="none" stroke="#1e1e1e" stroke-width="2.8"/>
  <ellipse cx="234" cy="184.5" rx="18.5" ry="21.5" fill="url(#sdCap)" stroke="#dcdcdc" stroke-width="0.8"/>
  <path d="M231,161.3 L254,164.5" stroke="#e0e0e0" stroke-width="3.8" stroke-linecap="round"/>
  <path d="M231,161.3 L254,164.5" stroke="#f6f6f6" stroke-width="2.6" stroke-linecap="round"/>
  <path d="M249,185.3 L264.3,185.3" stroke="#dadada" stroke-width="4.2" stroke-linecap="round"/>
  <path d="M249,185.3 L264.3,185.3" stroke="#f6f6f6" stroke-width="3" stroke-linecap="round"/>
  <path d="M243,200 L252,207" stroke="#dedede" stroke-width="4" stroke-linecap="round"/>
  <path d="M243,200 L252,207" stroke="#f6f6f6" stroke-width="2.8" stroke-linecap="round"/>
  <circle cx="252" cy="185.3" r="0.9" fill="#333"/>
  <circle cx="241.6" cy="153" r="4" fill="#f3f3f3" stroke="#e0e0e0" stroke-width="0.8"/>
  <path d="M219.5,170.5 L223,165" stroke="#8a8a8a" stroke-width="1" />
 </g>
</svg>

</body></html>
